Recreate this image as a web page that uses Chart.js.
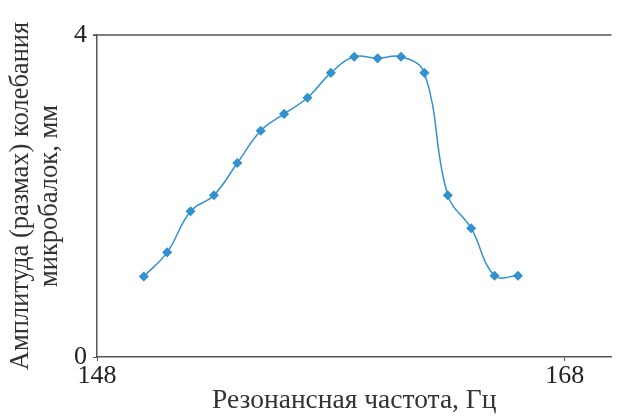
<!DOCTYPE html>
<html lang="ru">
<head>
    <meta charset="UTF-8">
    <title>Амплитуда колебания микробалок</title>
    <script src="https://cdn.jsdelivr.net/npm/chart.js"></script>
    <style>
      body { margin: 0; background: #fff; }
    </style>
</head>
<body>
    <canvas id="ampChart" width="617" height="417"></canvas>

    <script>
      // данные
      const freq = [150, 151, 152, 153, 154, 155, 156, 157, 158, 159, 160, 161, 162, 163, 164, 165, 166];
      const amplitude = [1.0, 1.3, 1.81, 2.01, 2.41, 2.81, 3.02, 3.22, 3.53, 3.73, 3.71, 3.73, 3.53, 2.01, 1.6, 1.01, 1.01];
      const xTicks = [148, 168];
      const yTicks = [0, 4];

      const serif = "'Liberation Serif', 'DejaVu Serif', serif";
      const axisColor = "#555";

      // верхняя линия рамки
      const topLine = {
        id: "topLine",
        afterDraw(chart) {
          const { ctx, chartArea } = chart;
          ctx.save();
          ctx.strokeStyle = axisColor;
          ctx.lineWidth = 1.5;
          ctx.beginPath();
          ctx.moveTo(chartArea.left - 4, chartArea.top);
          ctx.lineTo(chartArea.right, chartArea.top);
          ctx.stroke();
          ctx.restore();
        }
      };

      const ctx = document.getElementById("ampChart").getContext("2d");
      new Chart(ctx, {
        type: "line",
        data: {
          datasets: [
            {
              data: freq.map((f, i) => ({ x: f, y: amplitude[i] })),
              borderColor: "#3192cf",
              backgroundColor: "#3192cf",
              borderWidth: 1.5,
              pointStyle: "rectRot",
              pointRadius: 4,
              tension: 0.4
            }
          ]
        },
        plugins: [topLine],
        options: {
          responsive: false,
          animation: false,
          layout: { padding: { top: 35, right: 3, left: 0, bottom: 0 } },
          plugins: { legend: { display: false }, tooltip: { enabled: false } },
          scales: {
            x: {
              type: "linear",
              min: 148,
              max: 170,
              afterBuildTicks: (axis) => { axis.ticks = xTicks.map((v) => ({ value: v })); },
              afterFit: (axis) => { axis.height = 60; },
              grid: { drawOnChartArea: false, tickLength: 4, color: axisColor },
              border: { color: axisColor, width: 1.5 },
              ticks: { color: "#222", font: { family: serif, size: 26 }, padding: 0, maxRotation: 0 },
              title: {
                display: true,
                text: "Резонансная частота, Гц",
                color: "#333",
                font: { family: serif, size: 27.5 },
                padding: { top: 0, bottom: 0 }
              }
            },
            y: {
              min: 0,
              max: 4,
              afterBuildTicks: (axis) => { axis.ticks = yTicks.map((v) => ({ value: v })); },
              afterFit: (axis) => { axis.width = 97; },
              grid: { drawOnChartArea: false, tickLength: 4, color: axisColor },
              border: { color: axisColor, width: 1.5 },
              ticks: { color: "#222", font: { family: serif, size: 26 }, padding: 6 },
              title: {
                display: true,
                text: ["Амплитуда (размах) колебания", "микробалок, мм"],
                color: "#333",
                font: { family: serif, size: 26.5, lineHeight: 1.1 },
                padding: { top: 6, bottom: 0 }
              }
            }
          }
        }
      });
    </script>
</body>
</html>
